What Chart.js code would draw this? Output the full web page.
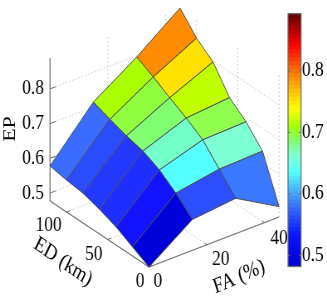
<!DOCTYPE html>
<html><head><meta charset="utf-8">
<script src="https://cdn.jsdelivr.net/npm/chart.js@4/dist/chart.umd.min.js"></script>
<style>
html,body{margin:0;padding:0;background:#fff;overflow:hidden;width:327px;height:300px}
#wrap{position:relative;width:327px;height:300px;overflow:hidden}
canvas{position:absolute!important;left:0;top:0;transform-origin:0 0;transform:scaleX(0.83)}
</style></head><body><div id="wrap"><canvas id="main" width="394" height="300"></canvas><canvas id="bar" width="394" height="300"></canvas></div>
<script>
// ---------- data ----------
const edValues=[0,20,40,60,80,100,120];
const faValues=[0,15,30,45];
const epAtFA0 =[0.477,0.503,0.529,0.548,0.563,0.569,0.578];
const epAtFA15=[0.566,0.610,0.645,0.668,0.680,0.696,0.714];
const epAtFA30=[0.579,0.631,0.684,0.715,0.742,0.770,0.796];
const epAtFA45=[0.507,0.635,0.688,0.726,0.797,0.834,0.889];
const faceColorsFA0 =['#0000d8','#1212ff','#1e2eff','#2238ff','#2a4cff','#3a6cff'];
const faceColorsFA15=['#2c4eff','#55ffff','#74ffc8','#80ff70','#90ff40','#aaff00'];
const faceColorsFA30=['#3a78ff','#7fffd4','#90ff50','#c0ff00','#ffe000','#ff8c00'];
const epTicks=[0.5,0.6,0.7,0.8];
const faTicks=[0,20,40];
const edTicks=[0,50,100];
const barTicks=[0.5,0.6,0.7,0.8];
const colormapPositions=[0,0.125,0.25,0.375,0.44,0.5,0.56,0.625,0.75,0.875,1];
const colormapColors=['#0000d0','#0a14ff','#3a7aff','#55ffff','#7fffd4','#80ff70','#aaff00','#ffff00','#ff8c00','#ff0000','#600000'];

// ---------- layout ----------
const W=394,H=300,SQ=327/394;
const grid=[epAtFA0,epAtFA15,epAtFA30,epAtFA45];
const faces=[faceColorsFA0,faceColorsFA15,faceColorsFA30];
const EP_MIN=0.477,EP_MAX=0.889,ED_MAX=120,FA_MAX=45;
const BAR_MIN=0.482,BAR_MAX=0.893;
function project(fa,ed,ep){
  return {x:149+fa*2.889-ed*0.825, y:267-fa*1.111-ed*0.55-(ep-EP_MIN)*347};
}
const SERIF='"Liberation Serif","Times New Roman",serif';
const datasets=[];
function addLine(pts,color,width,dash){
  datasets.push({data:pts,showLine:true,fill:false,borderColor:color,borderWidth:width,borderDash:dash||[],pointRadius:0,tension:0,clip:false});
}
const dot=[1.5,2.5],gridC='#c4c4c4',axisC='#6e6e6e';
// back walls and floor grid
epTicks.forEach(z=>addLine([project(0,ED_MAX,z),project(FA_MAX,ED_MAX,z),project(FA_MAX,0,z)],gridC,1,dot));
faTicks.forEach(f=>{
  addLine([project(f,ED_MAX,EP_MIN),project(f,ED_MAX,EP_MAX)],gridC,1,dot);
  addLine([project(f,0,EP_MIN),project(f,ED_MAX,EP_MIN)],gridC,1,dot);
});
edTicks.forEach(e=>{
  addLine([project(FA_MAX,e,EP_MIN),project(FA_MAX,e,EP_MAX)],gridC,1,dot);
  addLine([project(0,e,EP_MIN),project(FA_MAX,e,EP_MIN)],gridC,1,dot);
});
// axes
addLine([project(0,ED_MAX,EP_MIN),project(0,ED_MAX,EP_MAX)],axisC,1.2);
addLine([project(0,0,EP_MIN),project(FA_MAX,0,EP_MIN)],axisC,1.1);
addLine([project(0,0,EP_MIN),project(0,ED_MAX,EP_MIN)],axisC,1.1);
epTicks.forEach(z=>addLine([project(0,ED_MAX,z),project(2,ED_MAX,z)],axisC,1));
faTicks.forEach(f=>addLine([project(f,0,EP_MIN),project(f,3,EP_MIN)],axisC,1));
edTicks.forEach(e=>addLine([project(0,e,EP_MIN),project(1.2,e,EP_MIN)],axisC,1));
// surface, back to front
for(let i=faValues.length-2;i>=0;i--){
  for(let j=edValues.length-2;j>=0;j--){
    const p=[project(faValues[i],edValues[j],grid[i][j]),
             project(faValues[i+1],edValues[j],grid[i+1][j]),
             project(faValues[i+1],edValues[j+1],grid[i+1][j+1]),
             project(faValues[i],edValues[j+1],grid[i][j+1])];
    p.push(p[0]);
    datasets.push({data:p,showLine:true,fill:'shape',backgroundColor:faces[i][j],borderColor:'#4c4c4c',borderWidth:1,pointRadius:0,tension:0,clip:false});
  }
}
// paint in list order (later on top)
datasets.forEach((d,k)=>{d.order=datasets.length-k;});

const axisTexts=[];
epTicks.forEach(z=>{const p=project(0,ED_MAX,z);axisTexts.push({t:z.toFixed(1),x:p.x-6,y:p.y,align:'right'});});
const faOffsets=[[9,14],[14,15],[14.5,16]];
faTicks.forEach((f,k)=>{const p=project(f,0,EP_MIN);axisTexts.push({t:String(f),x:p.x+faOffsets[k][0],y:p.y+faOffsets[k][1],align:'center'});});
const edOffsets=[[-9,14],[-14,15],[-18,13.5]];
edTicks.forEach((e,k)=>{const p=project(0,e,EP_MIN);axisTexts.push({t:String(e),x:p.x+edOffsets[k][0],y:p.y+edOffsets[k][1],align:'center'});});
axisTexts.push({t:'EP',x:10,y:129,align:'center',rot:-90,size:22});
axisTexts.push({t:'ED (km)',x:63,y:262,align:'center',rot:30,size:22});
axisTexts.push({t:'FA (%)',x:239,y:277,align:'center',rot:-20,size:22});

const textPlugin={id:'axisText',afterDraw(c){
  const g=c.ctx,sx=c.scales.x,sy=c.scales.y;
  g.save();g.fillStyle='#000';g.textBaseline='middle';
  axisTexts.forEach(a=>{
    g.save();g.font=(a.size||21)+'px '+SERIF;
    g.translate(sx.getPixelForValue(a.x),sy.getPixelForValue(a.y));
    if(a.rot)g.rotate(a.rot*Math.PI/180);
    g.textAlign=a.align;g.fillText(a.t,0,0);g.restore();
  });
  g.restore();
}};
new Chart(document.getElementById('main'),{
  type:'scatter',
  data:{datasets},
  options:{responsive:false,animation:false,devicePixelRatio:1,
    layout:{padding:0},
    plugins:{legend:{display:false},tooltip:{enabled:false}},
    scales:{x:{type:'linear',min:0,max:327,display:false},
            y:{type:'linear',min:0,max:300,reverse:true,display:false}}},
  plugins:[textPlugin]
});

// ---------- colour bar ----------
function hexRgb(h){return [1,3,5].map(k=>parseInt(h.substr(k,2),16));}
function cmap(f){
  let k=0;while(k<colormapPositions.length-2&&f>colormapPositions[k+1])k++;
  const t=(f-colormapPositions[k])/(colormapPositions[k+1]-colormapPositions[k]);
  const a=hexRgb(colormapColors[k]),b=hexRgb(colormapColors[k+1]);
  return 'rgb('+a.map((v,n)=>Math.round(v+(b[n]-v)*t)).join(',')+')';
}
const LEVELS=64,barSets=[];
for(let l=0;l<LEVELS;l++){
  const lo=BAR_MIN+(BAR_MAX-BAR_MIN)*l/LEVELS,hi=BAR_MIN+(BAR_MAX-BAR_MIN)*(l+1.3)/LEVELS;
  barSets.push({data:[[lo,Math.min(hi,BAR_MAX)]],backgroundColor:cmap((l+0.5)/LEVELS),borderWidth:0,barPercentage:1,categoryPercentage:1,grouped:false,order:LEVELS-l});
}
const barFrame={id:'barFrame',afterDraw(c){
  const g=c.ctx,a=c.chartArea,y=c.scales.y;
  g.save();g.strokeStyle='#6e6e6e';g.lineWidth=1.3;g.strokeRect(a.left,a.top,a.right-a.left,a.bottom-a.top);
  g.strokeStyle='#666';g.lineWidth=1;
  barTicks.forEach(v=>{const p=y.getPixelForValue(v);
    g.beginPath();g.moveTo(a.left,p);g.lineTo(a.left+2.5,p);g.moveTo(a.right-2.5,p);g.lineTo(a.right,p);g.stroke();});
  g.restore();
}};
new Chart(document.getElementById('bar'),{
  type:'bar',
  data:{labels:['EP'],datasets:barSets},
  options:{responsive:false,animation:false,devicePixelRatio:1,
    layout:{padding:{left:288/SQ,top:7.5,bottom:33.5,right:0}},
    plugins:{legend:{display:false},tooltip:{enabled:false}},
    scales:{
      x:{display:false},
      y:{position:'right',min:BAR_MIN,max:BAR_MAX,
         grid:{display:false,drawTicks:false},border:{display:false},
         afterBuildTicks(s){s.ticks=barTicks.map(v=>({value:v}));},
         afterFit(s){s.width=W-301/SQ;},
         ticks:{autoSkip:false,padding:1,color:'#000',font:{family:SERIF,size:21},callback:v=>Number(v).toFixed(1)}}
    }},
  plugins:[barFrame]
});
</script>
</body></html>
